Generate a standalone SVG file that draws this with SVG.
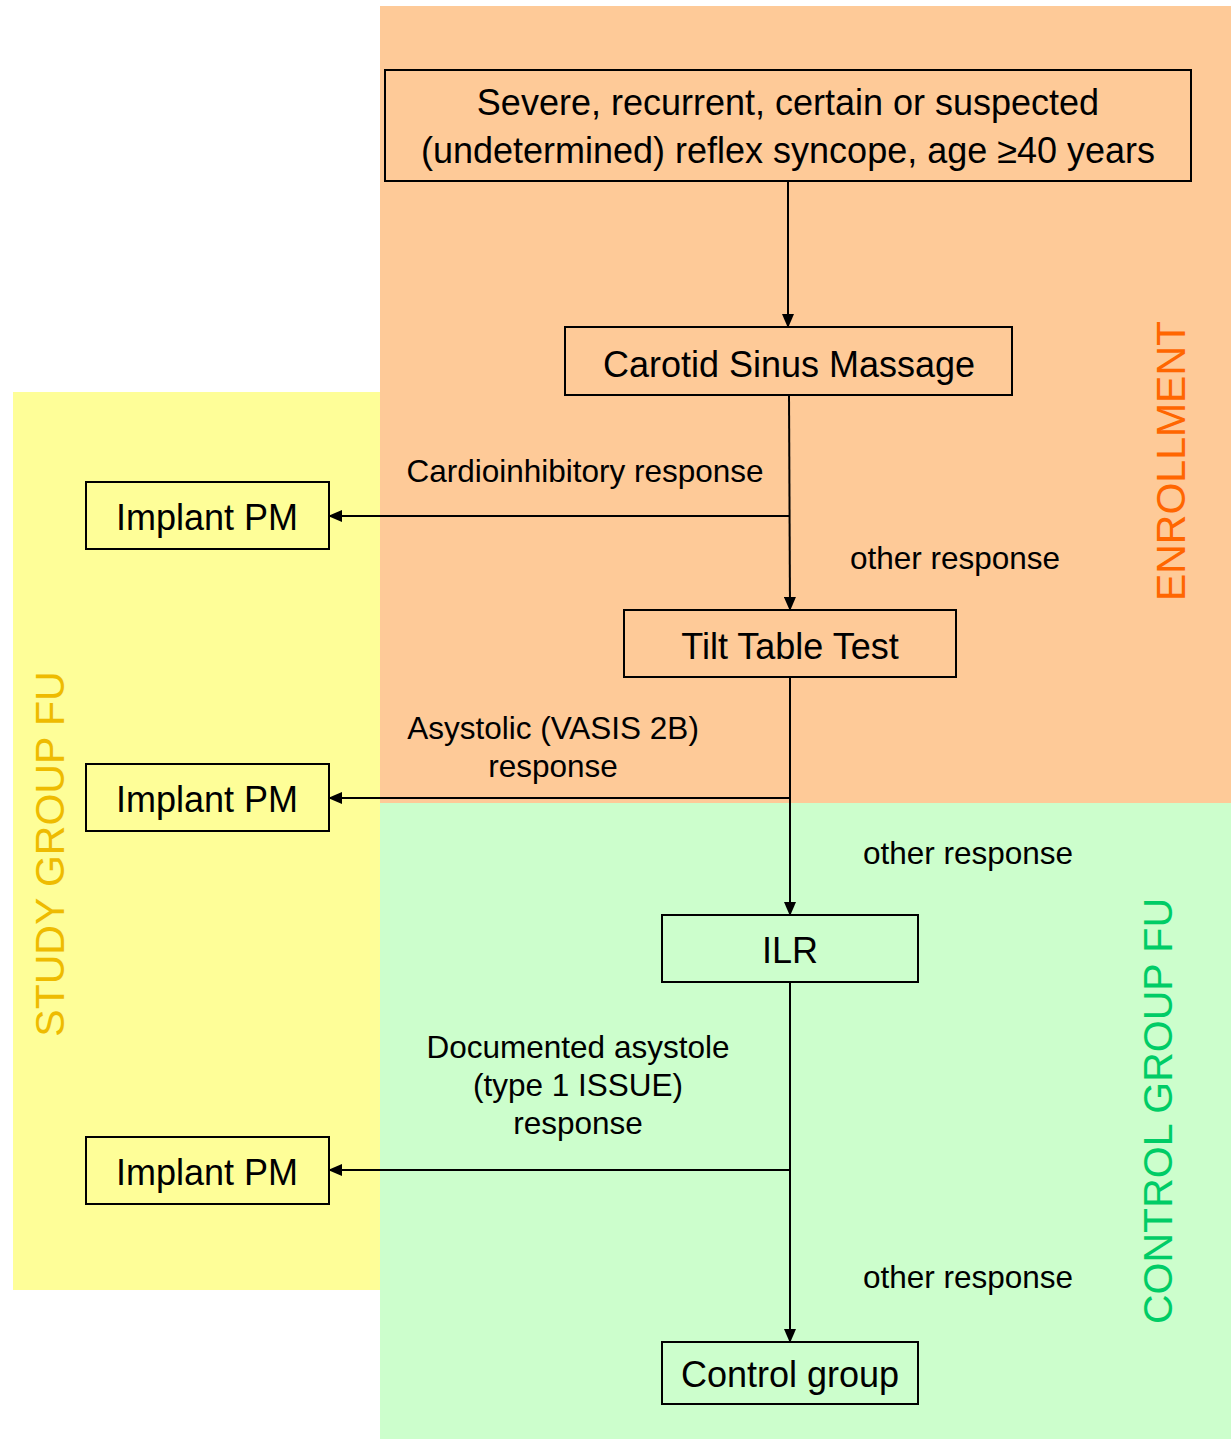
<svg xmlns="http://www.w3.org/2000/svg" width="1231" height="1439" viewBox="0 0 1231 1439">
<style>
.node rect{fill:none;stroke:#000;stroke-width:2}
.nt{font-family:"Liberation Sans",Arial,sans-serif;font-size:36px;fill:#000;text-anchor:middle}
.lb{font-family:"Liberation Sans",Arial,sans-serif;font-size:31.5px;fill:#000;text-anchor:middle}
.conn path{fill:none;stroke:#000;stroke-width:2}
.zone{font-family:"Liberation Sans",Arial,sans-serif;font-size:41px;text-anchor:middle}
</style>
<defs>
<marker id="ah" markerWidth="14" markerHeight="12" refX="13" refY="6" orient="auto" markerUnits="userSpaceOnUse">
<path d="M0,0 L14,6 L0,12 Z" fill="#000"/>
</marker>
</defs>
<rect width="1231" height="1439" fill="#fff"/>
<g id="backgrounds">
<rect x="380" y="6" width="851" height="797" fill="#FECA98"/>
<rect x="13" y="392" width="367" height="898" fill="#FEFE98"/>
<rect x="380" y="803" width="851" height="636" fill="#CCFECC"/>
</g>
<g id="zone-labels">
<text class="zone" fill="#FF6600" transform="translate(1185,461) rotate(-90)">ENROLLMENT</text>
<text class="zone" fill="#00CC66" transform="translate(1172,1111) rotate(-90)">CONTROL GROUP FU</text>
<text class="zone" fill="#EEBB00" transform="translate(64,854) rotate(-90)">STUDY GROUP FU</text>
</g>
<g id="connectors" class="conn">
<path d="M788,181 V327" marker-end="url(#ah)"/>
<path d="M789,395 L790,610" marker-end="url(#ah)"/>
<path d="M789,516 H329" marker-end="url(#ah)"/>
<path d="M790,677 V915" marker-end="url(#ah)"/>
<path d="M790,798 H329" marker-end="url(#ah)"/>
<path d="M790,982 V1342" marker-end="url(#ah)"/>
<path d="M790,1170 H329" marker-end="url(#ah)"/>
</g>
<g id="labels">
<text class="lb" x="585" y="482">Cardioinhibitory response</text>
<text class="lb" x="955" y="569">other response</text>
<text class="lb" x="553" y="739">Asystolic (VASIS 2B)</text>
<text class="lb" x="553" y="777">response</text>
<text class="lb" x="968" y="864">other response</text>
<text class="lb" x="578" y="1058">Documented asystole</text>
<text class="lb" x="578" y="1096">(type 1 ISSUE)</text>
<text class="lb" x="578" y="1134">response</text>
<text class="lb" x="968" y="1288">other response</text>
</g>
<g id="n-start" class="node">
<rect x="385" y="70" width="806" height="111"/>
<text class="nt" x="788" y="115">Severe, recurrent, certain or suspected</text>
<text class="nt" x="788" y="163">(undetermined) reflex syncope, age ≥40 years</text>
</g>
<g id="n-csm" class="node">
<rect x="565" y="327" width="447" height="68"/>
<text class="nt" x="789" y="377">Carotid Sinus Massage</text>
</g>
<g id="n-ttt" class="node">
<rect x="624" y="610" width="332" height="67"/>
<text class="nt" x="790" y="659">Tilt Table Test</text>
</g>
<g id="n-ilr" class="node">
<rect x="662" y="915" width="256" height="67"/>
<text class="nt" x="790" y="963">ILR</text>
</g>
<g id="n-control" class="node">
<rect x="662" y="1342" width="256" height="62"/>
<text class="nt" x="790" y="1387">Control group</text>
</g>
<g id="n-pm1" class="node">
<rect x="86" y="482" width="243" height="67"/>
<text class="nt" x="207" y="530">Implant PM</text>
</g>
<g id="n-pm2" class="node">
<rect x="86" y="764" width="243" height="67"/>
<text class="nt" x="207" y="812">Implant PM</text>
</g>
<g id="n-pm3" class="node">
<rect x="86" y="1137" width="243" height="67"/>
<text class="nt" x="207" y="1185">Implant PM</text>
</g>
</svg>
